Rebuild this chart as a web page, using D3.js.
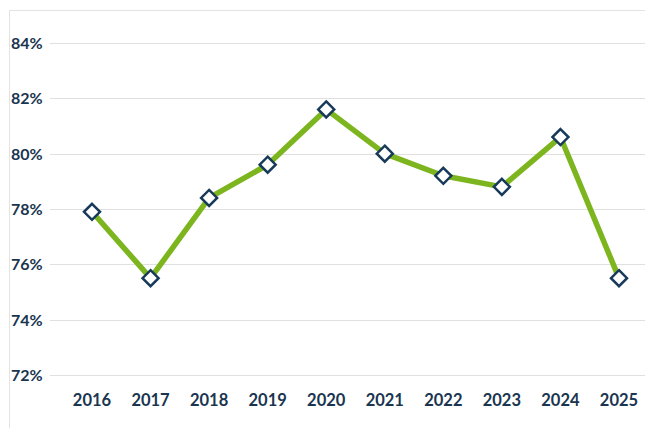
<!DOCTYPE html>
<html><head><meta charset="utf-8">
<script src="https://cdn.jsdelivr.net/npm/d3@7"></script>
<style>body{margin:0;background:#fff}svg{display:block}</style>
</head><body>
<svg id="c" width="645" height="428"></svg>
<script>
const years = ["2016","2017","2018","2019","2020","2021","2022","2023","2024","2025"];
const values = [77.9, 75.5, 78.4, 79.6, 81.6, 80.0, 79.2, 78.8, 80.6, 75.5];
const yTicks = [72, 74, 76, 78, 80, 82, 84];

const svg = d3.select("#c");
const W = 645, H = 428;
const labelColor = "#1a3550";
const font = "Lato, 'Open Sans', sans-serif";

// frame
svg.append("path").attr("d", `M9.5,${H} V10.5 H${W}`).attr("fill","none").attr("stroke","#e3e3e3").attr("stroke-width",1);

const x = d3.scalePoint().domain(years).range([92, 619]);
const y = d3.scaleLinear().domain([72, 84]).range([375, 43]);

// grid
svg.append("g").selectAll("line").data(yTicks).join("line")
  .attr("x1", 50).attr("x2", W)
  .attr("y1", d => Math.round(y(d)) + 0.5).attr("y2", d => Math.round(y(d)) + 0.5)
  .attr("stroke", "#e0e0e0").attr("stroke-width", 1);

// y labels
svg.append("g").selectAll("text").data(yTicks).join("text")
  .attr("x", 11).attr("y", d => y(d) + 0.5).attr("dy", "0.35em")
  .attr("font-family", font).attr("font-weight", "bold").attr("font-size", 16)
  .attr("fill", labelColor).text(d => d + "%");

// x labels
svg.append("g").selectAll("text").data(years).join("text")
  .attr("x", d => x(d)).attr("y", 400).attr("dy", "0.35em").attr("text-anchor", "middle")
  .attr("font-family", font).attr("font-weight", "bold").attr("font-size", 16.5)
  .attr("fill", labelColor).text(d => d);

const pts = years.map((yr, i) => ({yr, v: values[i]}));

svg.append("path").datum(pts)
  .attr("d", d3.line().x(d => x(d.yr)).y(d => y(d.v)))
  .attr("fill", "none").attr("stroke", "#7cb51e").attr("stroke-width", 5.5).attr("stroke-linejoin", "round");

svg.append("g").selectAll("path").data(pts).join("path")
  .attr("transform", d => `translate(${x(d.yr)},${y(d.v)})`)
  .attr("d", "M0,-8 L8,0 L0,8 L-8,0 Z")
  .attr("fill", "#fff").attr("stroke", "#173a5a").attr("stroke-width", 2.5);
</script>
</body></html>
